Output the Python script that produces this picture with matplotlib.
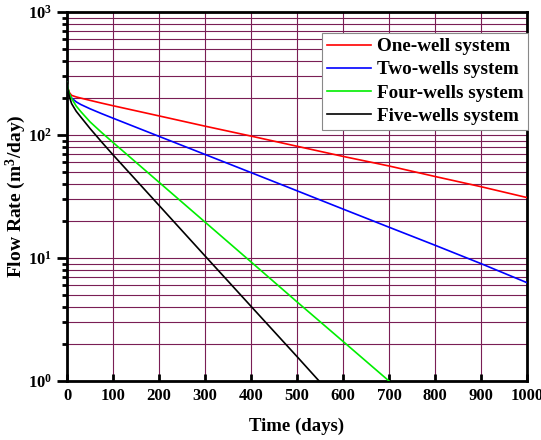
import math
import matplotlib
matplotlib.use("Agg")
import matplotlib.pyplot as plt
from matplotlib.ticker import LogLocator, FixedLocator, FuncFormatter, NullFormatter

# ---- data ----
t_one = [0, 2, 5, 10, 20, 30, 50, 75, 100, 200, 300, 400, 500, 600, 700, 800, 900, 1000]
q_one = [268, 240, 222, 210, 204, 199.5, 191.3, 181.7, 173, 143, 118, 98, 81, 67, 56, 46, 38, 31]

t_two = [0, 2, 5, 10, 20, 30, 50, 75, 100, 200, 300, 400, 500, 600, 700, 800, 900, 1000]
q_two = [268, 238, 215, 200, 186, 177, 163.4, 149.3, 137, 97.5, 69.5, 49.5, 35.2, 25, 17.8, 12.7, 9, 6.3]

t_four = [0, 2, 5, 10, 20, 30, 50, 75, 100, 200, 300, 400, 500, 600, 700]
q_four = [268, 240, 218, 198, 172, 155, 128, 105, 87, 41.3, 19.6, 9.3, 4.4, 2.1, 1.0]

t_five = [0, 2, 5, 10, 20, 30, 50, 75, 100, 200, 300, 400, 500, 548]
q_five = [268, 235, 205, 180, 156, 140, 113, 88, 69, 26.8, 10.4, 4.05, 1.58, 1.0]

labels = ["One-well system", "Two-wells system", "Four-wells system", "Five-wells system"]
colors = ["#ff0000", "#0000ff", "#00ee00", "#000000"]

x_ticks = [0, 100, 200, 300, 400, 500, 600, 700, 800, 900, 1000]

plt.rcParams['font.family'] = ['Liberation Serif', 'DejaVu Serif']
plt.rcParams['font.weight'] = 'bold'
plt.rcParams['mathtext.fontset'] = 'custom'
plt.rcParams['mathtext.rm'] = 'Liberation Serif:bold'
plt.rcParams['mathtext.bf'] = 'Liberation Serif:bold'
plt.rcParams['mathtext.it'] = 'Liberation Serif:bold:italic'

fig = plt.figure(figsize=(5.41, 4.40), dpi=100)
ax = fig.add_axes([67/541, 1-381/440, (527-67)/541, (381-12)/440])

gridc = '#7a1e55'
ax.set_yscale('log')
ax.set_xlim(0, 1000)
ax.set_ylim(1, 1000)

series = [(t_one, q_one), (t_two, q_two), (t_four, q_four), (t_five, q_five)]
for (t, q), lab, c in zip(series, labels, colors):
    ax.plot(t, q, color=c, lw=1.2, label=lab, zorder=3)

ax.xaxis.set_major_locator(FixedLocator(x_ticks))
ax.yaxis.set_major_locator(LogLocator(base=10, numticks=10))
ax.yaxis.set_minor_locator(LogLocator(base=10, subs=range(2, 10), numticks=20))
ax.yaxis.set_minor_formatter(NullFormatter())
ax.yaxis.set_major_formatter(FuncFormatter(lambda v, p: r"$\mathbf{10^{%d}}$" % round(math.log10(v))))

ax.grid(True, which='major', axis='both', color=gridc, lw=0.8)
ax.grid(True, which='minor', axis='y', color=gridc, lw=0.8)
ax.set_axisbelow(True)

ax.tick_params(axis='x', which='major', direction='in', length=5, width=2, labelsize=12, pad=5)
ax.tick_params(axis='y', which='major', direction='out', length=7, width=2, labelsize=12)
ax.tick_params(axis='y', which='minor', direction='out', length=3.5, width=2)
for s in ax.spines.values():
    s.set_linewidth(2)

for lbl in ax.get_xticklabels():
    lbl.set_fontweight('bold')

ax.set_xlabel("Time (days)", fontsize=13.5, fontweight='bold', labelpad=10)
ax.set_ylabel(r"Flow Rate (m$^3$/day)", fontsize=14, fontweight='bold')
ax.yaxis.set_label_coords(-0.085, 0.5)

leg = ax.legend(loc='upper right', bbox_to_anchor=(1.002, 0.943),
                prop={'family': 'Liberation Serif', 'weight': 'bold', 'size': 13.8},
                handlelength=2.3, handletextpad=0.3, labelspacing=0.3, borderpad=0.25,
                fancybox=False, framealpha=1, edgecolor='#888888', borderaxespad=0)
leg.get_frame().set_linewidth(0.8)

fig.savefig("out.png", dpi=100)
